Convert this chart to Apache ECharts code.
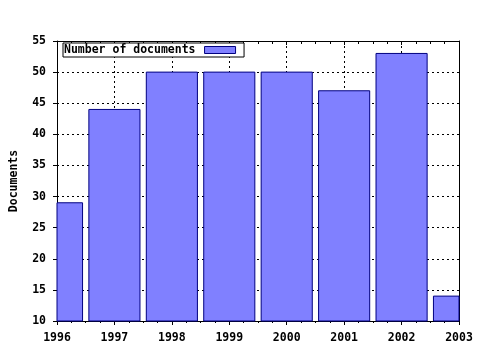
<!DOCTYPE html>
<html><head><meta charset="utf-8">
<script src="https://cdn.jsdelivr.net/npm/echarts@6/dist/echarts.min.js"></script>
<style>html,body{margin:0;padding:0;background:#fff}#c{width:480px;height:350px}</style>
</head><body><div id="c"></div>
<script>
var years = [1996, 1997, 1998, 1999, 2000, 2001, 2002, 2003];
var documents = [29, 44, 50, 50, 50, 47, 53, 14];
var seriesName = 'Number of documents';
var yAxisName = 'Documents';

var font = 'DejaVu Sans Mono';
var chart = echarts.init(document.getElementById('c'), null, {renderer: 'canvas'});
var data = years.map(function (y, i) { return [y, documents[i]]; });
var txt = {color: '#000', fontFamily: font, fontWeight: 'bold', fontSize: 11.5};
var barFill = '#8080ff', barStroke = '#000080';
var yMin = 10;
chart.setOption({
  backgroundColor: '#fff',
  animation: false,
  grid: {left: 57, right: 21, top: 41, bottom: 29},
  legend: {
    left: 63, top: 43, orient: 'horizontal', align: 'right',
    backgroundColor: '#fff', borderColor: '#000', borderWidth: 1, borderRadius: 0,
    padding: [1, 8, 1, 1],
    itemWidth: 31, itemHeight: 7,
    textStyle: Object.assign({padding: [0, 4, 0, 0]}, txt),
    data: [{name: seriesName, icon: 'rect', itemStyle: {color: barFill, borderColor: barStroke, borderWidth: 1}}]
  },
  xAxis: [{
    type: 'value', min: years[0], max: years[years.length - 1], interval: 1,
    axisLine: {show: true, onZero: false, lineStyle: {color: '#000', width: 1}},
    axisTick: {show: true, length: 4, lineStyle: {color: '#000'}},
    minorTick: {show: true, splitNumber: 4, length: 2, lineStyle: {color: '#000'}},
    axisLabel: Object.assign({margin: 11, formatter: function (v) { return String(v); }}, txt),
    splitLine: {show: true, lineStyle: {color: '#000', type: [2, 3], width: 1}}
  }, {
    type: 'value', position: 'top', min: years[0], max: years[years.length - 1], interval: 1,
    axisLine: {show: true, onZero: false, lineStyle: {color: '#000', width: 1}},
    axisTick: {show: true, inside: true, length: 4, lineStyle: {color: '#000'}},
    minorTick: {show: true, splitNumber: 4, length: 3, lineStyle: {color: '#000'}},
    axisLabel: {show: false},
    splitLine: {show: false}
  }],
  yAxis: [{
    type: 'value', min: yMin, max: 55, interval: 5,
    name: yAxisName, nameLocation: 'middle', nameRotate: 90, nameGap: 37,
    nameTextStyle: txt,
    axisLine: {show: true, onZero: false, lineStyle: {color: '#000', width: 1}},
    axisTick: {show: true, length: 4, lineStyle: {color: '#000'}},
    axisLabel: Object.assign({margin: 11}, txt),
    splitLine: {show: true, lineStyle: {color: '#000', type: [2, 3], width: 1}}
  }, {
    type: 'value', position: 'right', min: yMin, max: 55, interval: 5,
    axisLine: {show: true, onZero: false, lineStyle: {color: '#000', width: 1}},
    axisTick: {show: false}, axisLabel: {show: false}, splitLine: {show: false}
  }],
  series: [{
    name: seriesName, type: 'custom', xAxisIndex: 0, yAxisIndex: 0,
    data: data,
    itemStyle: {color: barFill, borderColor: barStroke, borderWidth: 1},
    encode: {x: 0, y: 1},
    renderItem: function (params, api) {
      var x = api.value(0), y = api.value(1);
      var top = api.coord([x, y]);
      var base = api.coord([x, yMin]);
      var w = api.size([1, 0])[0] * 0.89;
      var rect = {x: top[0] - w / 2, y: top[1], width: w, height: base[1] - top[1]};
      var cs = params.coordSys;
      var clipped = echarts.graphic.clipRectByRect(rect, {x: cs.x, y: cs.y, width: cs.width, height: cs.height});
      if (!clipped) return null;
      return {type: 'rect', shape: clipped,
        style: {fill: barFill, stroke: barStroke, lineWidth: 1}};
    }
  }]
});
</script></body></html>
